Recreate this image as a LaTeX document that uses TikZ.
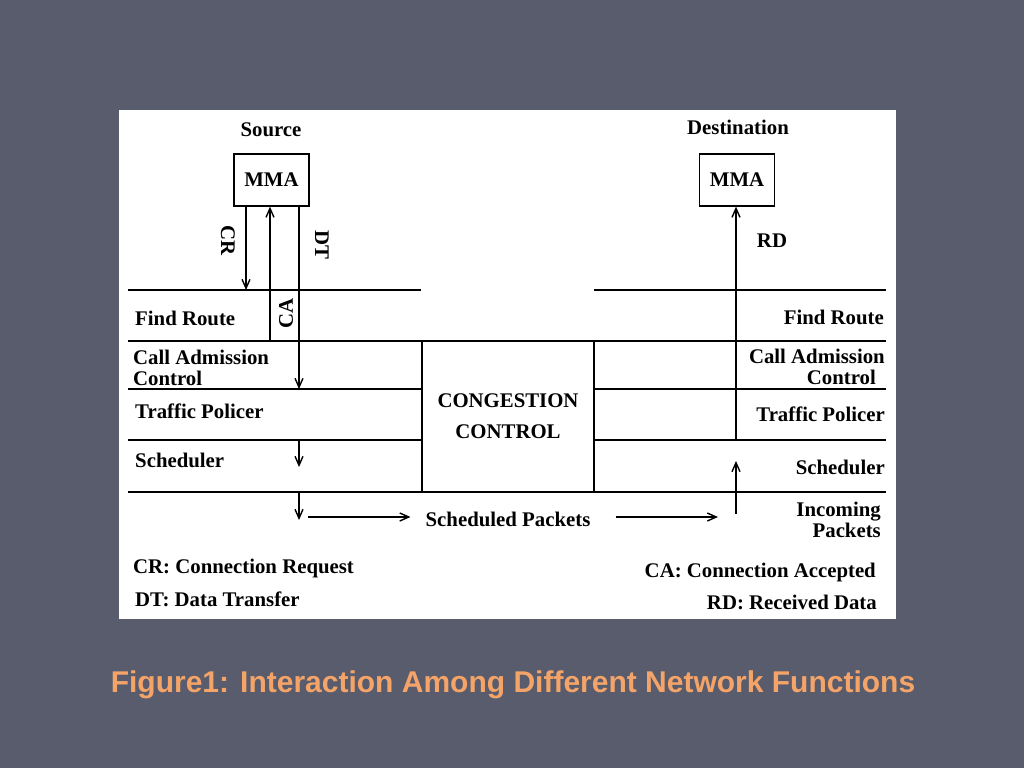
\documentclass[tikz,border=0pt]{standalone}
\usepackage{fontspec}
\setmainfont{Liberation Serif}
\newfontfamily\capfont{Liberation Sans}
\usetikzlibrary{arrows.meta}
\definecolor{slidebg}{RGB}{89,92,108}
\definecolor{capcol}{RGB}{244,164,104}

\tikzset{
  lbl/.style={font=\bfseries\fontsize{20.8}{21}\selectfont, inner sep=0pt},
  mma/.style={draw, line width=1.3pt, minimum width=75pt, minimum height=52pt, lbl},
  layer/.style={line width=1.5pt},
  flow/.style={line width=1.3pt, -{Straight Barb[length=9pt,width=8pt,line width=1.4pt]}},
}

\begin{document}
\begin{tikzpicture}[x=1pt,y=-1pt]
\fill[slidebg] (0,0) rectangle (1024,768);
\useasboundingbox (0,0) rectangle (1024,768);
\fill[white] (119,110) rectangle (896,619);

% end systems
\node[lbl] (src) at (271,130) {Source};
\node[mma] (smma) at (271.5,180) {MMA};
\node[lbl] (dst) at (738,127) {Destination};
\node[mma] (dmma) at (737,180) {MMA};

% layers
\draw[layer] (128,290) -- (421,290) (594,290) -- (886,290);
\draw[layer] (128,341) -- (886,341);
\draw[layer] (128,389) -- (421,389) (594,389) -- (886,389);
\draw[layer] (128,440) -- (421,440) (594,440) -- (886,440);
\draw[layer] (128,492) -- (886,492);
\node[draw, layer, minimum width=172pt, minimum height=151pt, lbl,
  font=\bfseries\fontsize{20.8}{31}\selectfont, align=center] (cong) at (508,416.5) {CONGESTION\\CONTROL};

\node[lbl, anchor=west] (frl) at (135,318) {Find Route};
\node[lbl, anchor=west, align=left] (cacl) at (133,367.5) {Call Admission\\Control};
\node[lbl, anchor=west] (tpl) at (135,411) {Traffic Policer};
\node[lbl, anchor=west] (schl) at (135,460) {Scheduler};

\node[lbl, anchor=east] (frr) at (884,317) {Find Route};
\node[lbl, anchor=east, align=right] (cacr) at (885,366.5) {Call Admission\\Control\hspace*{9pt}};
\node[lbl, anchor=east] (tpr) at (885,414) {Traffic Policer};
\node[lbl, anchor=east] (schr) at (885,467) {Scheduler};
\node[lbl, anchor=east, align=right] (inc) at (881,520) {Incoming\\Packets};
\node[lbl] (sp) at (508,519) {Scheduled Packets};

% signal labels
\node[lbl, rotate=-90] (cr) at (228,241) {CR};
\node[lbl, rotate=-90] (dt) at (322,245) {DT};
\node[lbl, rotate=90] (ca) at (286,313) {CA};
\node[lbl] (rd) at (772,241) {RD};

% arrows
\coordinate (crend) at (246,290);
\coordinate (cabot) at (270,341);
\coordinate (dtend) at (299,389);
\coordinate (s1a) at (299,440);
\coordinate (s1b) at (299,467);
\coordinate (s2a) at (299,492);
\coordinate (s2b) at (299,520);
\coordinate (h1) at (308,517);
\coordinate (h2) at (718,517);
\coordinate (in1) at (736,514);
\coordinate (in2) at (736,461);
\coordinate (rdbot) at (736,440);
\draw[flow] (smma.south -| crend) -- (crend);
\draw[flow] (cabot) -- (cabot |- smma.south);
\draw[flow] (smma.south -| dtend) -- (dtend);
\draw[flow] (s1a) -- (s1b);
\draw[flow] (s2a) -- (s2b);
\draw[flow, shorten >=15pt] (h1) -- (h1 -| sp.west);
\draw[flow, shorten <=25pt] (sp.east |- h2) -- (h2);
\draw[flow] (in1) -- (in2);
\draw[flow] (rdbot) -- (rdbot |- dmma.south);

% legend
\node[lbl, anchor=west] (lcr) at (133,568) {CR: Connection Request};
\node[lbl, anchor=west] (ldt) at (135,599) {DT: Data Transfer};
\node[lbl, anchor=east] (lca) at (876,572) {CA: Connection Accepted};
\node[lbl, anchor=east] (lrd) at (877,602) {RD: Received Data};

% caption
\node[font=\capfont\bfseries\fontsize{30}{34}\selectfont, text=capcol, inner sep=0pt] (cap) at (513,685)
  {Figure1: Interaction Among Different Network Functions};
\end{tikzpicture}
\end{document}
